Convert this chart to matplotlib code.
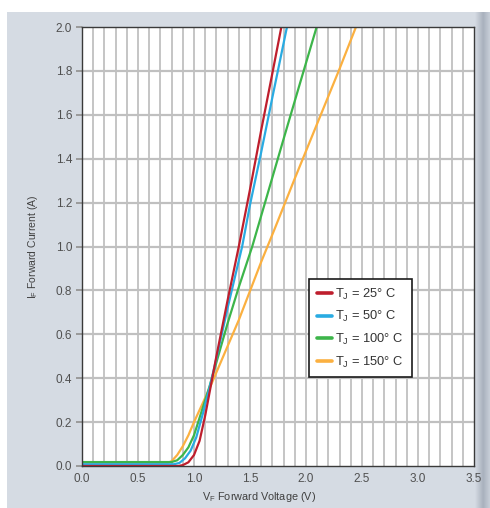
import numpy as np
import matplotlib
matplotlib.use("Agg")
import matplotlib.pyplot as plt
from matplotlib.patches import Rectangle

# Forward characteristics, read at junction temperatures 25/50/100/150 °C
v_25 = [0.00, 0.86, 0.90, 0.95, 1.00, 1.05, 1.10, 1.15, 1.20, 1.30, 1.40, 1.50, 1.60, 1.70, 1.78]
i_25 = [0.000, 0.000, 0.004, 0.017, 0.05, 0.115, 0.23, 0.365, 0.50, 0.755, 1.00, 1.26, 1.53, 1.79, 2.00]

v_50 = [0.00, 0.82, 0.87, 0.92, 0.97, 1.02, 1.08, 1.14, 1.20, 1.30, 1.43, 1.50, 1.60, 1.70, 1.83]
i_50 = [0.008, 0.008, 0.014, 0.035, 0.07, 0.13, 0.24, 0.36, 0.49, 0.72, 1.00, 1.19, 1.43, 1.68, 2.00]

v_100 = [0.00, 0.80, 0.85, 0.90, 0.95, 1.00, 1.05, 1.14, 1.30, 1.40, 1.52, 1.64, 1.80, 1.95, 2.095]
i_100 = [0.018, 0.018, 0.026, 0.05, 0.085, 0.14, 0.22, 0.365, 0.65, 0.815, 1.00, 1.21, 1.49, 1.75, 2.00]

v_150 = [0.00, 0.76, 0.80, 0.85, 0.90, 0.95, 1.00, 1.14, 1.40, 1.60, 1.72, 1.90, 2.10, 2.30, 2.446]
i_150 = [0.013, 0.013, 0.022, 0.05, 0.09, 0.14, 0.20, 0.355, 0.665, 0.93, 1.08, 1.31, 1.56, 1.81, 2.00]

series_labels = ["25", "50", "100", "150"]
series_colors = ["#be1e2d", "#29abe2", "#3db54a", "#fbb040"]

x_ticks = [0.0, 0.5, 1.0, 1.5, 2.0, 2.5, 3.0, 3.5]
y_ticks = [0.0, 0.2, 0.4, 0.6, 0.8, 1.0, 1.2, 1.4, 1.6, 1.8, 2.0]

plt.rcParams["font.family"] = ["Liberation Sans", "DejaVu Sans"]

W, H = 490, 508
fig = plt.figure(figsize=(W / 100, H / 100), dpi=100)
fig.patch.set_facecolor("white")

# background panel with a soft shadow along its right edge
panel_col = "#d5dbe3"
fig.patches.append(Rectangle((7 / W, 0), (475 - 7) / W, 1 - 12 / H,
                             transform=fig.transFigure, facecolor=panel_col,
                             edgecolor="none", zorder=-10))
shade = fig.add_axes([475 / W, 0, 15 / W, 1 - 12 / H], zorder=-9)
grad = np.linspace(0, 1, 60)
prof = np.where(grad < 0.55, grad / 0.55, 1 - (grad - 0.55) / 0.45 * 0.7)
c0 = np.array([0xd5, 0xdb, 0xe3]) / 255
c1 = np.array([0xa9, 0xb1, 0xbd]) / 255
img = c0[None, None, :] * (1 - prof[None, :, None]) + c1[None, None, :] * prof[None, :, None]
shade.imshow(np.repeat(img, 2, axis=0), aspect="auto", extent=[0, 1, 0, 1])
shade.set_axis_off()

ax = fig.add_axes([82 / W, 1 - 466 / H, (474 - 82) / W, (466 - 27) / H])
ax.set_facecolor("white")
ax.set_xlim(0, 3.5)
ax.set_ylim(0, 2.0)

# grid: every 0.1 V vertically, every 0.2 A horizontally
for xv in np.arange(1, 35) / 10:
    ax.axvline(xv, color="#c0c0c0", lw=1.3, zorder=1)
for yv in y_ticks[1:-1]:
    ax.axhline(yv, color="#c0c0c0", lw=1.6, zorder=1)

curves = [(v_25, i_25), (v_50, i_50), (v_100, i_100), (v_150, i_150)]
lines = []
for (v, i), lab, col, z in zip(curves, series_labels, series_colors, [6, 5, 4, 3]):
    ln, = ax.plot(v, i, color=col, lw=1.6, zorder=z, solid_joinstyle="round",
                  solid_capstyle="round", clip_on=True,
                  label="T$_\\mathregular{J}$ = " + lab + "° C")
    lines.append(ln)

for s in ax.spines.values():
    s.set_color("#3a3a3a")
    s.set_linewidth(1.0)
    s.set_zorder(10)

ax.set_xticks(x_ticks)
ax.set_xticklabels([f"{t:.1f}" for t in x_ticks])
ax.set_yticks(y_ticks)
ax.set_yticklabels([f"{t:.1f}" for t in y_ticks])
ax.tick_params(axis="x", length=0, pad=5, labelsize=8.5, labelcolor="#505050")
ax.tick_params(axis="y", length=4, width=1.4, color="#9a9a9a", pad=3,
               labelsize=8.5, labelcolor="#505050")

fig.text(33 / W, 1 - 247 / H, "I$_\\mathregular{F}$ Forward Current (A)", rotation=90,
         ha="center", va="center", fontsize=7.5, color="#404040")
fig.text(259 / W, 1 - 497 / H, "V$_\\mathregular{F}$ Forward Voltage (V)",
         ha="center", va="center", fontsize=7.8, color="#404040")

leg = ax.legend(handles=lines, loc="upper left", bbox_to_anchor=(0.579, 0.426),
                borderaxespad=0, fontsize=9.3, frameon=True, fancybox=False,
                handlelength=1.2, handletextpad=0.25, labelspacing=0.58,
                borderpad=0.6, framealpha=1)
leg.get_frame().set_edgecolor("#1a1a1a")
leg.get_frame().set_linewidth(1.2)
leg.set_zorder(20)
for h in leg.get_lines():
    h.set_linewidth(2.6)
for t in leg.get_texts():
    t.set_color("#333333")

fig.savefig("out.png", dpi=100, facecolor=fig.get_facecolor())
